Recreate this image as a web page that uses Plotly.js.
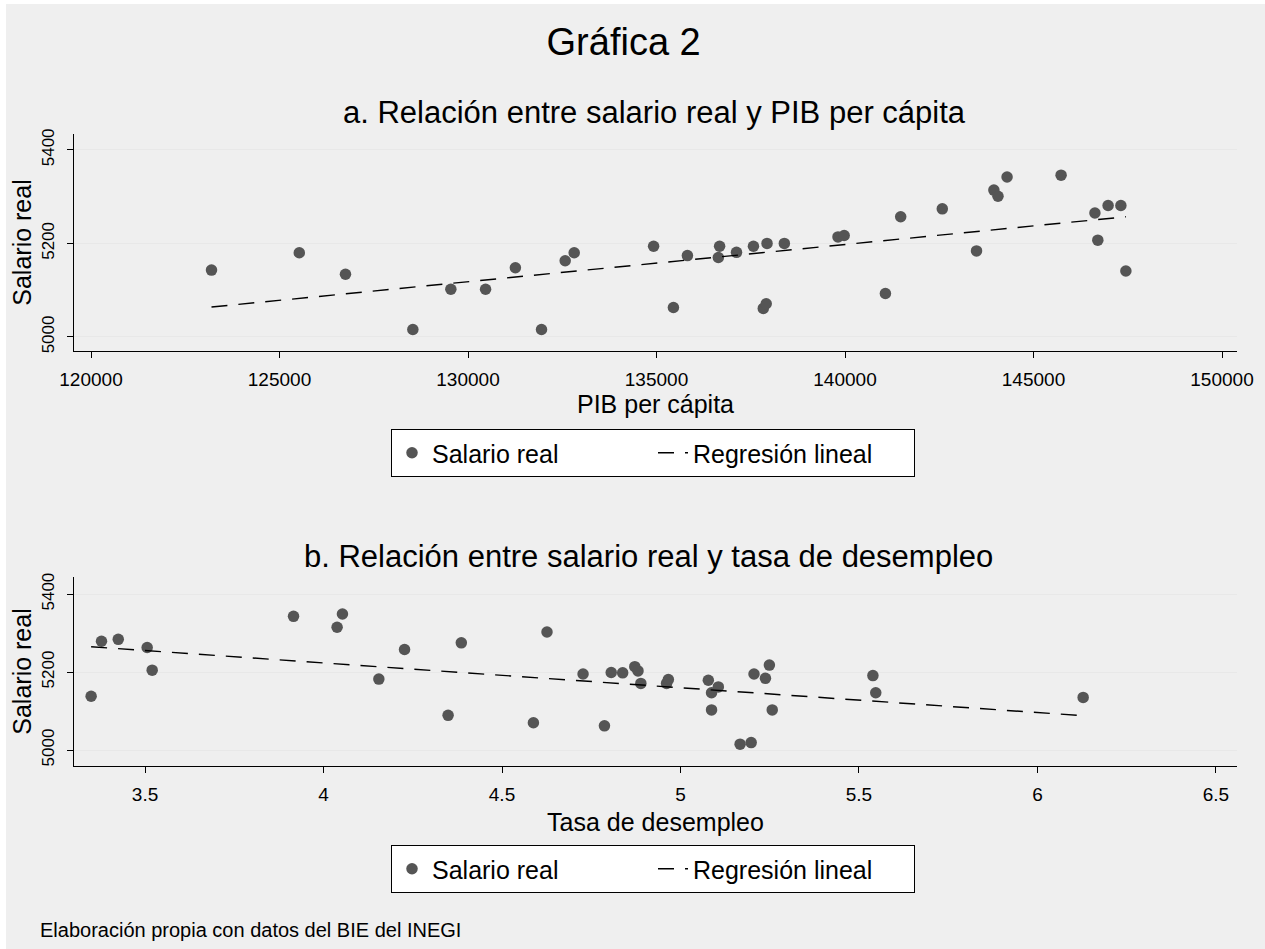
<!DOCTYPE html>
<html>
<head>
<meta charset="utf-8">
<script src="https://cdn.plot.ly/plotly-3.0.1.min.js"></script>
<style>html,body{margin:0;padding:0;background:#fff;}#chart{width:1265px;height:949px;}</style>
</head>
<body>
<div id="chart"></div>
<script>
// Panel a: PIB per cápita vs salario real
const pib = [123196, 125525, 126750, 128537, 129545, 130466, 131257, 131950, 132578, 132817,
  134923, 135449, 135820, 136674, 136641, 137122, 137571, 137932, 137833, 137910,
  138391, 139814, 139978, 141072, 141477, 142581, 143489, 143949, 144058, 144299,
  145732, 146629, 146979, 147318, 146706, 147450];
const salarioA = [5143, 5180, 5134, 5016, 5102, 5102, 5148, 5016, 5163, 5180,
  5194, 5063, 5174, 5194, 5170, 5181, 5194, 5200, 5061, 5071,
  5200, 5214, 5217, 5093, 5257, 5274, 5184, 5314, 5301, 5342,
  5346, 5265, 5281, 5281, 5207, 5141];
const regA_x = [123196, 147450];
const regA_y = [5064, 5257];

// Panel b: tasa de desempleo vs salario real
const desempleo = [3.349, 3.378, 3.425, 3.506, 3.520, 3.916, 4.038, 4.053, 4.155, 4.227,
  4.349, 4.386, 4.588, 4.626, 4.727, 4.787, 4.806, 4.838, 4.872, 4.881,
  4.889, 4.961, 4.966, 5.078, 5.087, 5.087, 5.106, 5.167, 5.198, 5.206,
  5.238, 5.249, 5.257, 5.539, 5.547, 6.128];
const salarioB = [5138, 5279, 5284, 5263, 5205, 5343, 5315, 5349, 5182, 5258,
  5089, 5275, 5070, 5303, 5195, 5062, 5199, 5198, 5214, 5203,
  5171, 5171, 5181, 5179, 5147, 5103, 5162, 5015, 5019, 5195,
  5184, 5218, 5103, 5191, 5147, 5135];
const regB_x = [3.349, 6.128];
const regB_y = [5265, 5088];

const ticksA = [120000, 125000, 130000, 135000, 140000, 145000, 150000];
const ticksB = [3.5, 4, 4.5, 5, 5.5, 6, 6.5];
const ticksY = [5000, 5200, 5400];

const W = 1265, H = 949;
const FONT = 'Liberation Sans, Arial, sans-serif';
const dotColor = '#555555';
const dashStyle = '16px,11px';

const traces = [
  {x: pib, y: salarioA, xaxis: 'x', yaxis: 'y', type: 'scatter', mode: 'markers', name: 'Salario real',
   marker: {color: dotColor, size: 11.5}, legend: 'legend'},
  {x: regA_x, y: regA_y, xaxis: 'x', yaxis: 'y', type: 'scatter', mode: 'lines', name: 'Regresión lineal',
   line: {color: '#000', width: 1.4, dash: dashStyle}, legend: 'legend'},
  {x: desempleo, y: salarioB, xaxis: 'x2', yaxis: 'y2', type: 'scatter', mode: 'markers', name: 'Salario real',
   marker: {color: dotColor, size: 11.5}, legend: 'legend2'},
  {x: regB_x, y: regB_y, xaxis: 'x2', yaxis: 'y2', type: 'scatter', mode: 'lines', name: 'Regresión lineal',
   line: {color: '#000', width: 1.4, dash: dashStyle}, legend: 'legend2'}
];

const xl = 74 / W, xr = 1237 / W;
const commonX = {
  showline: true, linecolor: '#000', linewidth: 1, ticks: 'outside', ticklen: 6, tickcolor: '#000',
  showgrid: false, zeroline: false, tickfont: {size: 19, color: '#000'}, ticklabelstandoff: 5
};
const commonY = {
  showline: true, linecolor: '#000', linewidth: 1, ticks: 'outside', ticklen: 6, tickcolor: '#000',
  showgrid: true, gridcolor: '#e8e8e8', gridwidth: 1, zeroline: false, tickangle: -90,
  tickfont: {size: 17, color: '#000'}, tickvals: ticksY, ticklabelstandoff: 6
};
const axTitleFont = {size: 25, color: '#000'};

const legendCommon = {
  orientation: 'h', xanchor: 'left', yanchor: 'top', bgcolor: '#fff', bordercolor: '#000', borderwidth: 1,
  font: {size: 25, color: '#000', family: FONT}, entrywidth: 216, entrywidthmode: 'pixels',
  itemwidth: 30, tracegroupgap: 0
};

const layout = {
  width: W, height: H,
  margin: {l: 0, r: 0, t: 0, b: 0},
  paper_bgcolor: '#ffffff', plot_bgcolor: '#ffffff',
  font: {family: FONT, color: '#000'},
  title: {text: 'Gráfica 2', x: 0.493, xref: 'paper', xanchor: 'center', y: 1 - 42 / H, yref: 'paper', yanchor: 'middle',
          font: {size: 38, color: '#000', family: FONT}},
  xaxis: Object.assign({}, commonX, {domain: [xl, xr], anchor: 'y', range: [119549, 150398], tickvals: ticksA,
    tickformat: 'd', title: {text: 'PIB per cápita', font: axTitleFont, standoff: 4}}),
  yaxis: Object.assign({}, commonY, {domain: [1 - 351 / H, 1 - 134 / H], anchor: 'x', range: [4970, 5434],
    title: {text: 'Salario real', font: axTitleFont, standoff: 0}}),
  xaxis2: Object.assign({}, commonX, {domain: [xl, xr], anchor: 'y2', range: [3.301, 6.559], tickvals: ticksB,
    title: {text: 'Tasa de desempleo', font: axTitleFont, standoff: 9}}),
  yaxis2: Object.assign({}, commonY, {domain: [1 - 766 / H, 1 - 577 / H], anchor: 'x2', range: [4959, 5444],
    title: {text: 'Salario real', font: axTitleFont, standoff: 0}}),
  legend: Object.assign({}, legendCommon, {x: 391 / W, y: 1 - 429 / H}),
  legend2: Object.assign({}, legendCommon, {x: 391 / W, y: 1 - 845 / H}),
  shapes: [
    {type: 'rect', xref: 'paper', yref: 'paper', x0: 6 / W, x1: 1, y0: 0, y1: 1 - 4 / H,
     fillcolor: '#efefef', line: {width: 0}, layer: 'below'}
  ],
  annotations: [
    {text: 'a. Relación entre salario real y PIB per cápita', xref: 'paper', yref: 'paper',
     x: 654 / W, y: 1 - 113 / H, xanchor: 'center', yanchor: 'middle', showarrow: false,
     font: {size: 31, color: '#000', family: FONT}},
    {text: 'b. Relación entre salario real y tasa de desempleo', xref: 'paper', yref: 'paper',
     x: 648 / W, y: 1 - 556 / H, xanchor: 'center', yanchor: 'middle', showarrow: false,
     font: {size: 31, color: '#000', family: FONT}},
    {text: 'Elaboración propia con datos del BIE del INEGI', xref: 'paper', yref: 'paper',
     x: 38 / W, y: 1 - 930 / H, xanchor: 'left', yanchor: 'middle', showarrow: false,
     font: {size: 20, color: '#000', family: FONT}}
  ]
};

Plotly.newPlot('chart', traces, layout, {displayModeBar: false, responsive: false});
</script>
</body>
</html>
